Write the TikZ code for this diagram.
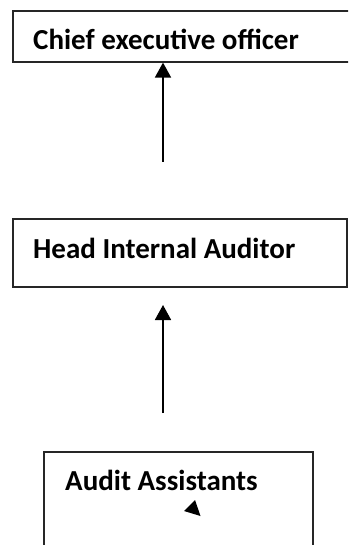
\documentclass[tikz,border=0pt]{standalone}
\usepackage{fontspec}
\setmainfont{Carlito}
\usetikzlibrary{arrows.meta}
\begin{document}
\begin{tikzpicture}[x=1pt,y=-1pt,
  box/.style={draw=black!85,line width=1.6pt,rectangle,inner sep=0pt,anchor=north west},
  label/.style={anchor=base west,inner sep=0pt,font=\bfseries\fontsize{29}{34}\selectfont},
  arr/.style={line width=1.8pt,-{Triangle[length=15pt,width=16pt]}}]
\useasboundingbox (0,0) rectangle (348,545);
\clip (0,0) rectangle (348,545);
% boxes
\node[box,minimum width=360pt,minimum height=51pt] (ceo) at (12,10) {};
\node[box,minimum width=334pt,minimum height=68pt] (hia) at (12,218) {};
\node[box,minimum width=269pt,minimum height=120pt] (aa) at (43,451) {};
% titles
\node[label] (ceot) at ([xshift=21pt,yshift=-40pt]ceo.north west) {Chief executive officer};
\node[label] (hiat) at ([xshift=21pt,yshift=-40pt]hia.north west) {Head Internal Auditor};
\node[label] (aat) at ([xshift=22pt,yshift=-39pt]aa.north west) {Audit Assistants};
% reporting lines
\coordinate (s1) at (163,162);
\coordinate (s2) at (163,413);
\coordinate (e2) at (163,305);
\draw[arr] (s1) -- (s1 |- ceo.south);
\draw[arr] (s2) -- (e2);
% stray arrow tip
\fill (195,500) -- (184,511) -- (200.5,516) -- cycle;
\end{tikzpicture}
\end{document}
